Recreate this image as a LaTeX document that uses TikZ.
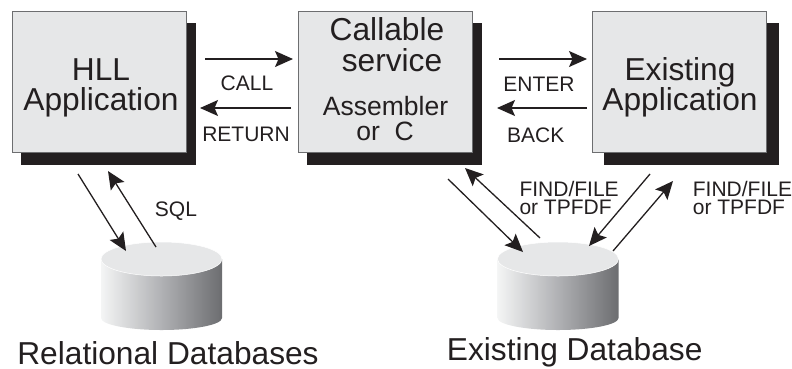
\documentclass[tikz,border=0pt]{standalone}
\usepackage{fontspec}
\setmainfont{Liberation Sans}
\usetikzlibrary{arrows.meta}
\definecolor{ink}{HTML}{231F20}
\definecolor{boxfill}{HTML}{E6E7E8}
\definecolor{boxedge}{HTML}{6D6E70}
\definecolor{cylleft}{HTML}{F4F5F5}
\definecolor{cylmid}{HTML}{B0B1B4}
\definecolor{cylright}{HTML}{6C6D70}
\newcommand{\dbcyl}[1]{%
  \path[left color=cylleft,right color=cylright,middle color=cylmid]
    (#1-60.5,259) -- (#1-60.5,318) arc[start angle=180,end angle=0,x radius=60.5,y radius=12] -- (#1+60.5,259) -- cycle;
  \path[fill=boxfill,draw=white,line width=0.5pt] (#1,259) ellipse[x radius=60.5,y radius=17];
}
\tikzset{
  x=1pt,y=-1pt,
  appbox/.style={draw=boxedge,line width=0.8pt,fill=boxfill,minimum width=174,minimum height=141,inner sep=0,outer sep=0},
  shadowbox/.style={fill=ink,minimum width=175,minimum height=142,inner sep=0,outer sep=0},
  big/.style={anchor=base,text=ink,inner sep=0,font=\fontsize{31.7}{34}\selectfont},
  mid/.style={anchor=base,text=ink,inner sep=0,font=\fontsize{26.5}{30}\selectfont},
  small/.style={anchor=base,text=ink,inner sep=0,font=\fontsize{21}{24}\selectfont},
  smallleft/.style={small,anchor=base west},
  flow/.style={draw=ink,line width=1.3pt,-{Stealth[length=18pt,width=16pt,inset=3.5pt]}},
}
\begin{document}
\begin{tikzpicture}
\useasboundingbox (0,0) rectangle (792,368);
% shadows and boxes
\node[shadowbox] (hllshadow) at (108.5,94) {};
\node[shadowbox] (svcshadow) at (394.5,94) {};
\node[shadowbox] (extshadow) at (691.5,94) {};
\node[appbox] (hll) at (99,81.5) {};
\node[appbox] (svc) at (385,81.5) {};
\node[appbox] (ext) at (679.5,81.5) {};
% cylinders
\dbcyl{161.5}
\dbcyl{558}
% box texts
\node[big] (t1) at (101,80) {HLL};
\node[big] (t2) at (101,110.6) {Application};
\node[big] (t3) at (387,40.6) {Callable};
\node[big] (t4) at (392,71.6) {service};
\node[mid] (t5) at (385.5,115) {Assembler};
\node[mid] (t6) at (385,140) {or\ \ C};
\node[big] (t7) at (680,80) {Existing};
\node[big] (t8) at (680,110.6) {Application};
% labels
\node[small] (l1) at (247,90.7) {CALL};
\node[small] (l2) at (246,141.7) {RETURN};
\node[small] (l3) at (539,91.7) {ENTER};
\node[small] (l4) at (535.7,142.7) {BACK};
\node[small] (l5) at (176,216.7) {SQL};
\node[smallleft] (l6) at (519.3,196) {FIND/FILE};
\node[smallleft] (l7) at (519.3,214.7) {or TPFDF};
\node[smallleft] (l8) at (692.7,196) {FIND/FILE};
\node[smallleft] (l9) at (692.7,214.7) {or TPFDF};
\node[big] (c1) at (168,364) {Relational Databases};
\node[big] (c2) at (574.7,360.7) {Existing Database};
% connector ends
\coordinate (a1) at (205,59); \coordinate (a2) at (293,59);
\coordinate (b1) at (291,108); \coordinate (b2) at (200,108);
\coordinate (c3) at (499,59); \coordinate (c4) at (587,59);
\coordinate (d1) at (587,108); \coordinate (d2) at (497,108);
\coordinate (e1) at (78,174); \coordinate (e2) at (126,251);
\coordinate (f1) at (156,247); \coordinate (f2) at (108,171);
\coordinate (g1) at (448,179); \coordinate (g2) at (523,252);
\coordinate (h1) at (540,238); \coordinate (h2) at (465,168);
\coordinate (i1) at (650,174); \coordinate (i2) at (589,246);
\coordinate (j1) at (613,251); \coordinate (j2) at (673,181);
\foreach \p/\q in {a1/a2,b1/b2,c3/c4,d1/d2,e1/e2,f1/f2,g1/g2,h1/h2,i1/i2,j1/j2}
  \draw[flow] (\p) -- (\q);
\end{tikzpicture}
\end{document}
